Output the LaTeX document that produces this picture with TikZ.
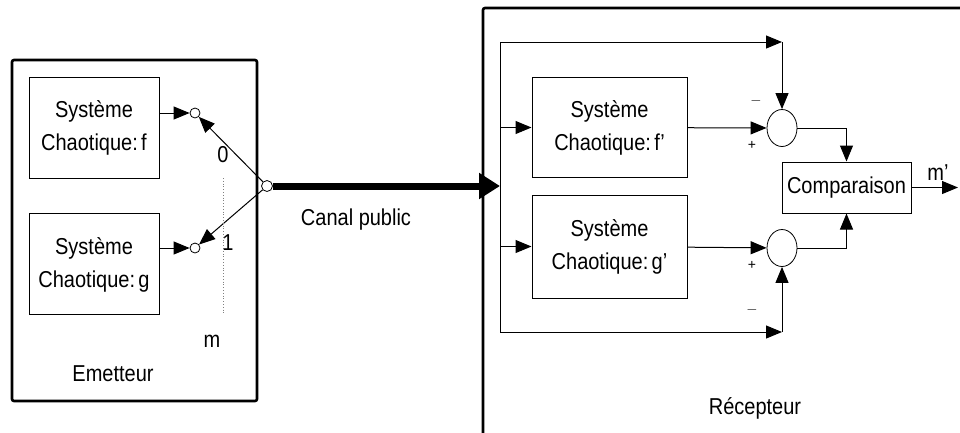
\documentclass[tikz,border=0pt]{standalone}
\usepackage{fontspec}
\setmainfont{Liberation Sans}
\usepackage{graphicx}
\usepackage{tikz}
\usetikzlibrary{positioning,arrows.meta,calc,shapes.geometric}
\newcommand\vst[1]{\scalebox{1}[1.15]{#1}}
\newcommand\systxt[1]{\raisebox{6pt}{\begin{tabular}{@{}c@{}}\vst{Système}\\
  \vst{Chaotique:\,#1}\end{tabular}}}
\tikzset{
  >={Triangle[length=16pt,width=13pt]},
  lbl/.style={font=\fontsize{20}{33}\selectfont,inner sep=0pt},
  sgn/.style={font=\fontsize{14}{16}\selectfont,inner sep=0pt},
  sysbox/.style={draw,line width=1pt,
    font=\fontsize{20}{33}\selectfont,inner sep=0pt},
  term/.style={circle,draw,line width=0.8pt,minimum size=10pt,inner sep=0pt,fill=white},
  sumnd/.style={ellipse,draw,line width=0.8pt,minimum width=30pt,
    minimum height=37pt,inner sep=0pt},
  sig/.style={->,line width=1pt},
  wire/.style={line width=1pt},
  chan/.style={-{Triangle[length=21pt,width=25pt]},line width=7pt},
  frame/.style={line width=2.6pt,rounded corners=2pt},
}
\begin{document}
\begin{tikzpicture}[x=1pt,y=-1pt]
  \useasboundingbox (0,0) rectangle (960,432);
  % emetteur
  \draw[frame] (12,60) rectangle (257,401);
  \node[sysbox,minimum width=130pt,minimum height=101pt] (sysf) at (94,127.5)
    {\systxt{f}};
  \node[sysbox,minimum width=130pt,minimum height=101pt] (sysg) at (94,264)
    {\systxt{g}};
  \node[term] (tf) at (195,113) {};
  \node[term] (tg) at (195,248) {};
  \node[term,minimum size=11pt] (sw) at (267,186) {};
  \draw[sig] (sysf.east |- tf) -- (tf);
  \draw[sig] (sysg.east |- tg) -- (tg);
  \draw[sig] (sw) -- (tf);
  \draw[sig] (sw) -- (tg);
  \coordinate (mtop) at (223,178);
  \coordinate (mbot) at (223,313);
  \draw[dotted,gray,line width=0.8pt] (mtop) -- (mbot);
  \node[lbl] (bit0) at (223,155) {\vst{0}};
  \node[lbl] (bit1) at (228,243) {\vst{1}};
  \node[lbl] (msg) at (212,341) {\vst{m}};
  \node[lbl] (emet) at (113,374) {\vst{Emetteur}};
  % canal
  \coordinate (busC) at (500,186);
  \draw[chan] (sw) -- (busC);
  \node[lbl] (canal) at (356,220) {\vst{Canal public}};
  % recepteur
  \draw[frame] (483,440) -- (483,8) -- (965,8);
  \coordinate (busT) at (500,42);
  \coordinate (busB) at (500,332);
  \draw[wire] (busT) -- (busB);
  \node[sysbox,minimum width=155pt,minimum height=100pt] (sysfp) at (609.5,127.5)
    {\systxt{f'}};
  \node[sysbox,minimum width=155pt,minimum height=103pt] (sysgp) at (609.5,246.5)
    {\systxt{g'}};
  \node[sumnd] (sf) at (782,128) {};
  \node[sumnd] (sg) at (782,248) {};
  \node[sysbox,minimum width=129pt,minimum height=51pt] (comp) at (846.5,187.5)
    {\vst{Comparaison}};
  \draw[sig] (busT |- sysfp) -- (sysfp);
  \draw[sig] (busT |- sysgp) -- (sysgp);
  \draw[sig] (sysfp) -- (sf);
  \draw[sig] (sysgp) -- (sg);
  \coordinate (cornT) at (sf.north |- busT);
  \coordinate (cornB) at (sg.south |- busB);
  \draw[sig] (busT) -- (cornT);
  \draw[sig] (cornT) -- (sf.north);
  \draw[sig] (busB) -- (cornB);
  \draw[sig] (cornB) -- (sg.south);
  \draw[sig] (sf.east) -| (comp.north);
  \draw[sig] (sg.east) -| (comp.south);
  \coordinate (outm) at (958,187.5);
  \draw[sig] (comp.east) -- (outm);
  \node[lbl] (mp) at (938,173) {\vst{m'}};
  \node[sgn] (sfm) at (756,101) {$-$};
  \node[sgn] (sfp) at (752,145) {+};
  \node[sgn] (sgp) at (752,265) {+};
  \node[sgn] (sgm) at (752,310) {$-$};
  \node[lbl] (recep) at (755,408) {\vst{Récepteur}};
\end{tikzpicture}
\end{document}
